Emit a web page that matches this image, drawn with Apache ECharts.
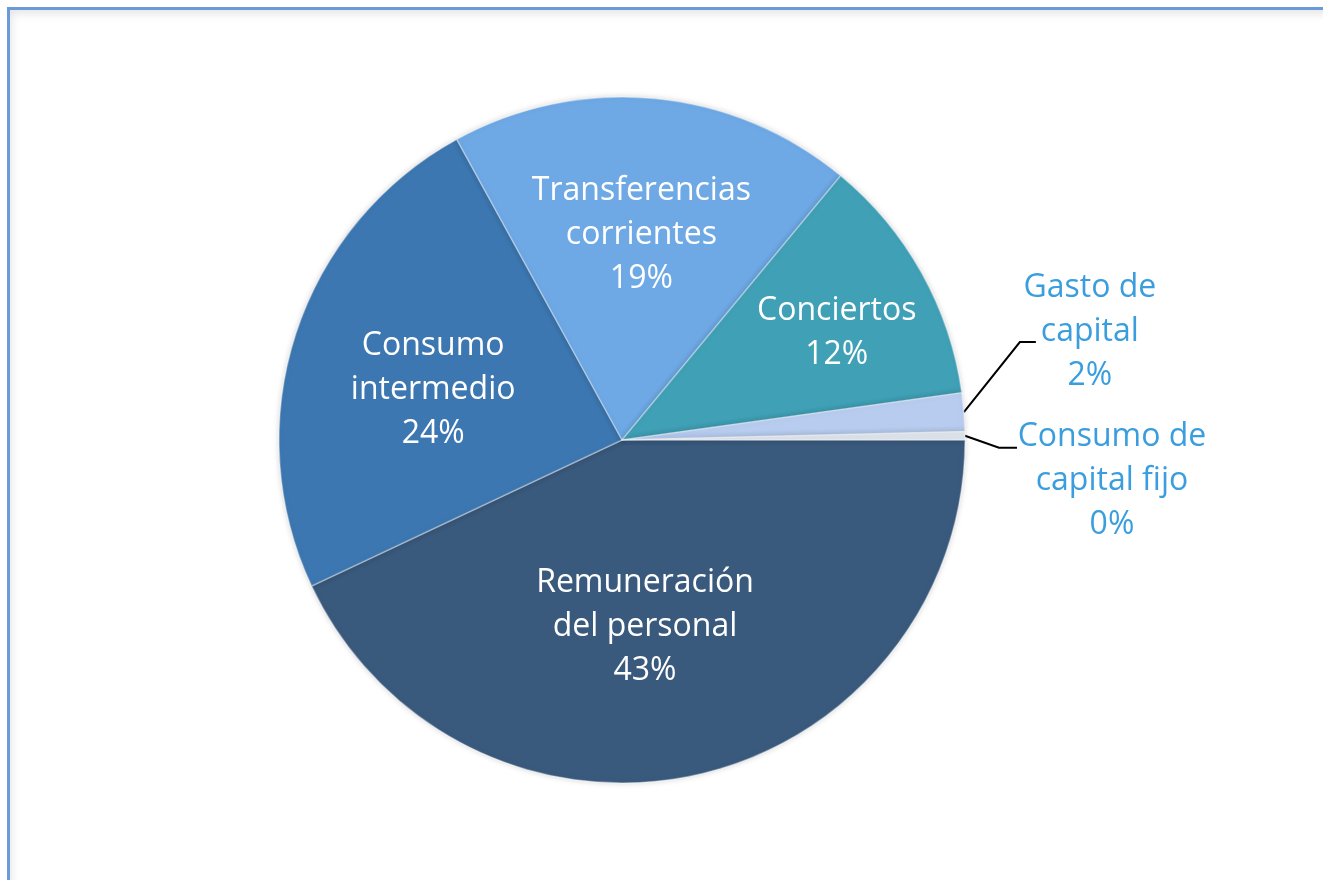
<!DOCTYPE html>
<html>
<head>
<meta charset="utf-8">
<script src="https://cdn.jsdelivr.net/npm/echarts@6/dist/echarts.min.js"></script>
<style>
  html, body { margin: 0; padding: 0; background: #fff; overflow: hidden; }
  #frame {
    position: absolute; left: 7px; top: 7px; width: 1400px; height: 1000px;
    border: 3px solid #6a9ad8;
    box-shadow: inset 2px 4px 8px rgba(0, 0, 0, 0.10);
  }
  #chart { position: absolute; left: 0; top: 0; width: 1323px; height: 880px; }
</style>
</head>
<body>
<div id="frame"></div>
<div id="chart"></div>
<script>
// categories and shares (%), clockwise from 3 o'clock
const categories = [
  'Remuneración\ndel personal',
  'Consumo\nintermedio',
  'Transferencias\ncorrientes',
  'Conciertos',
  'Gasto de\ncapital',
  'Consumo de\ncapital fijo'
]
const shares = [43, 24, 19, 11.8, 1.8, 0.4]
const colors = ['#3a5a7d', '#3d77b1', '#6ea9e5', '#40a0b6', '#b7ccee', '#dde3ea']

const center = [622, 440]
const R = 343
// inner label placement: radius fraction, angle shift (deg)
const innerPlace = [[0.55, 5.6], [0.57, -3], [0.6, 0], [0.7, 2.6]]

const chart = echarts.init(document.getElementById('chart'))

const data = categories.map((name, i) => {
  const outside = i >= 4
  return {
    name,
    value: shares[i],
    itemStyle: { color: colors[i] },
    label: outside
      ? { position: 'outside', color: '#3a9ede' }
      : { position: 'inner', color: '#ffffff' },
    labelLine: { show: outside }
  }
})

chart.setOption({
  animation: false,
  series: [{
    type: 'pie',
    center: center,
    radius: R,
    startAngle: 0,
    clockwise: true,
    avoidLabelOverlap: false,
    itemStyle: {
      borderColor: 'rgba(255,255,255,0.35)',
      borderWidth: 1.5,
      shadowBlur: 6,
      shadowColor: 'rgba(0,0,0,0.18)'
    },
    label: {
      fontFamily: 'Open Sans',
      fontSize: 32,
      lineHeight: 44,
      align: 'center',
      formatter: (p) => `${p.name}\n${Math.round(p.value)}%`
    },
    labelLine: {
      lineStyle: { color: '#000', width: 2 },
      length: 20,
      length2: 15
    },
    labelLayout: (p) => {
      const i = p.dataIndex
      if (i < 4) {
        const lr = p.labelRect
        const lx = lr.x + lr.width / 2
        const ly = lr.y + lr.height / 2
        const a = Math.atan2(ly - center[1], lx - center[0]) + innerPlace[i][1] * Math.PI / 180
        const r = innerPlace[i][0] * R
        return {
          x: center[0] + r * Math.cos(a),
          y: center[1] + r * Math.sin(a),
          align: 'center',
          verticalAlign: 'middle'
        }
      }
      const s = p.labelLinePoints[0]
      if (i === 4) {
        const b = [s[0] + 56, s[1] - 70]
        const e = [b[0] + 16, b[1]]
        return {
          x: e[0] + 54, y: e[1] - 10,
          align: 'center', verticalAlign: 'middle',
          labelLinePoints: [s, b, e]
        }
      }
      const b = [s[0] + 34, s[1] + 12]
      const e = [b[0] + 18, b[1]]
      return {
        x: e[0] + 95, y: e[1] + 33,
        align: 'center', verticalAlign: 'middle',
        labelLinePoints: [s, b, e]
      }
    },
    data: data
  }]
})
</script>
</body>
</html>
